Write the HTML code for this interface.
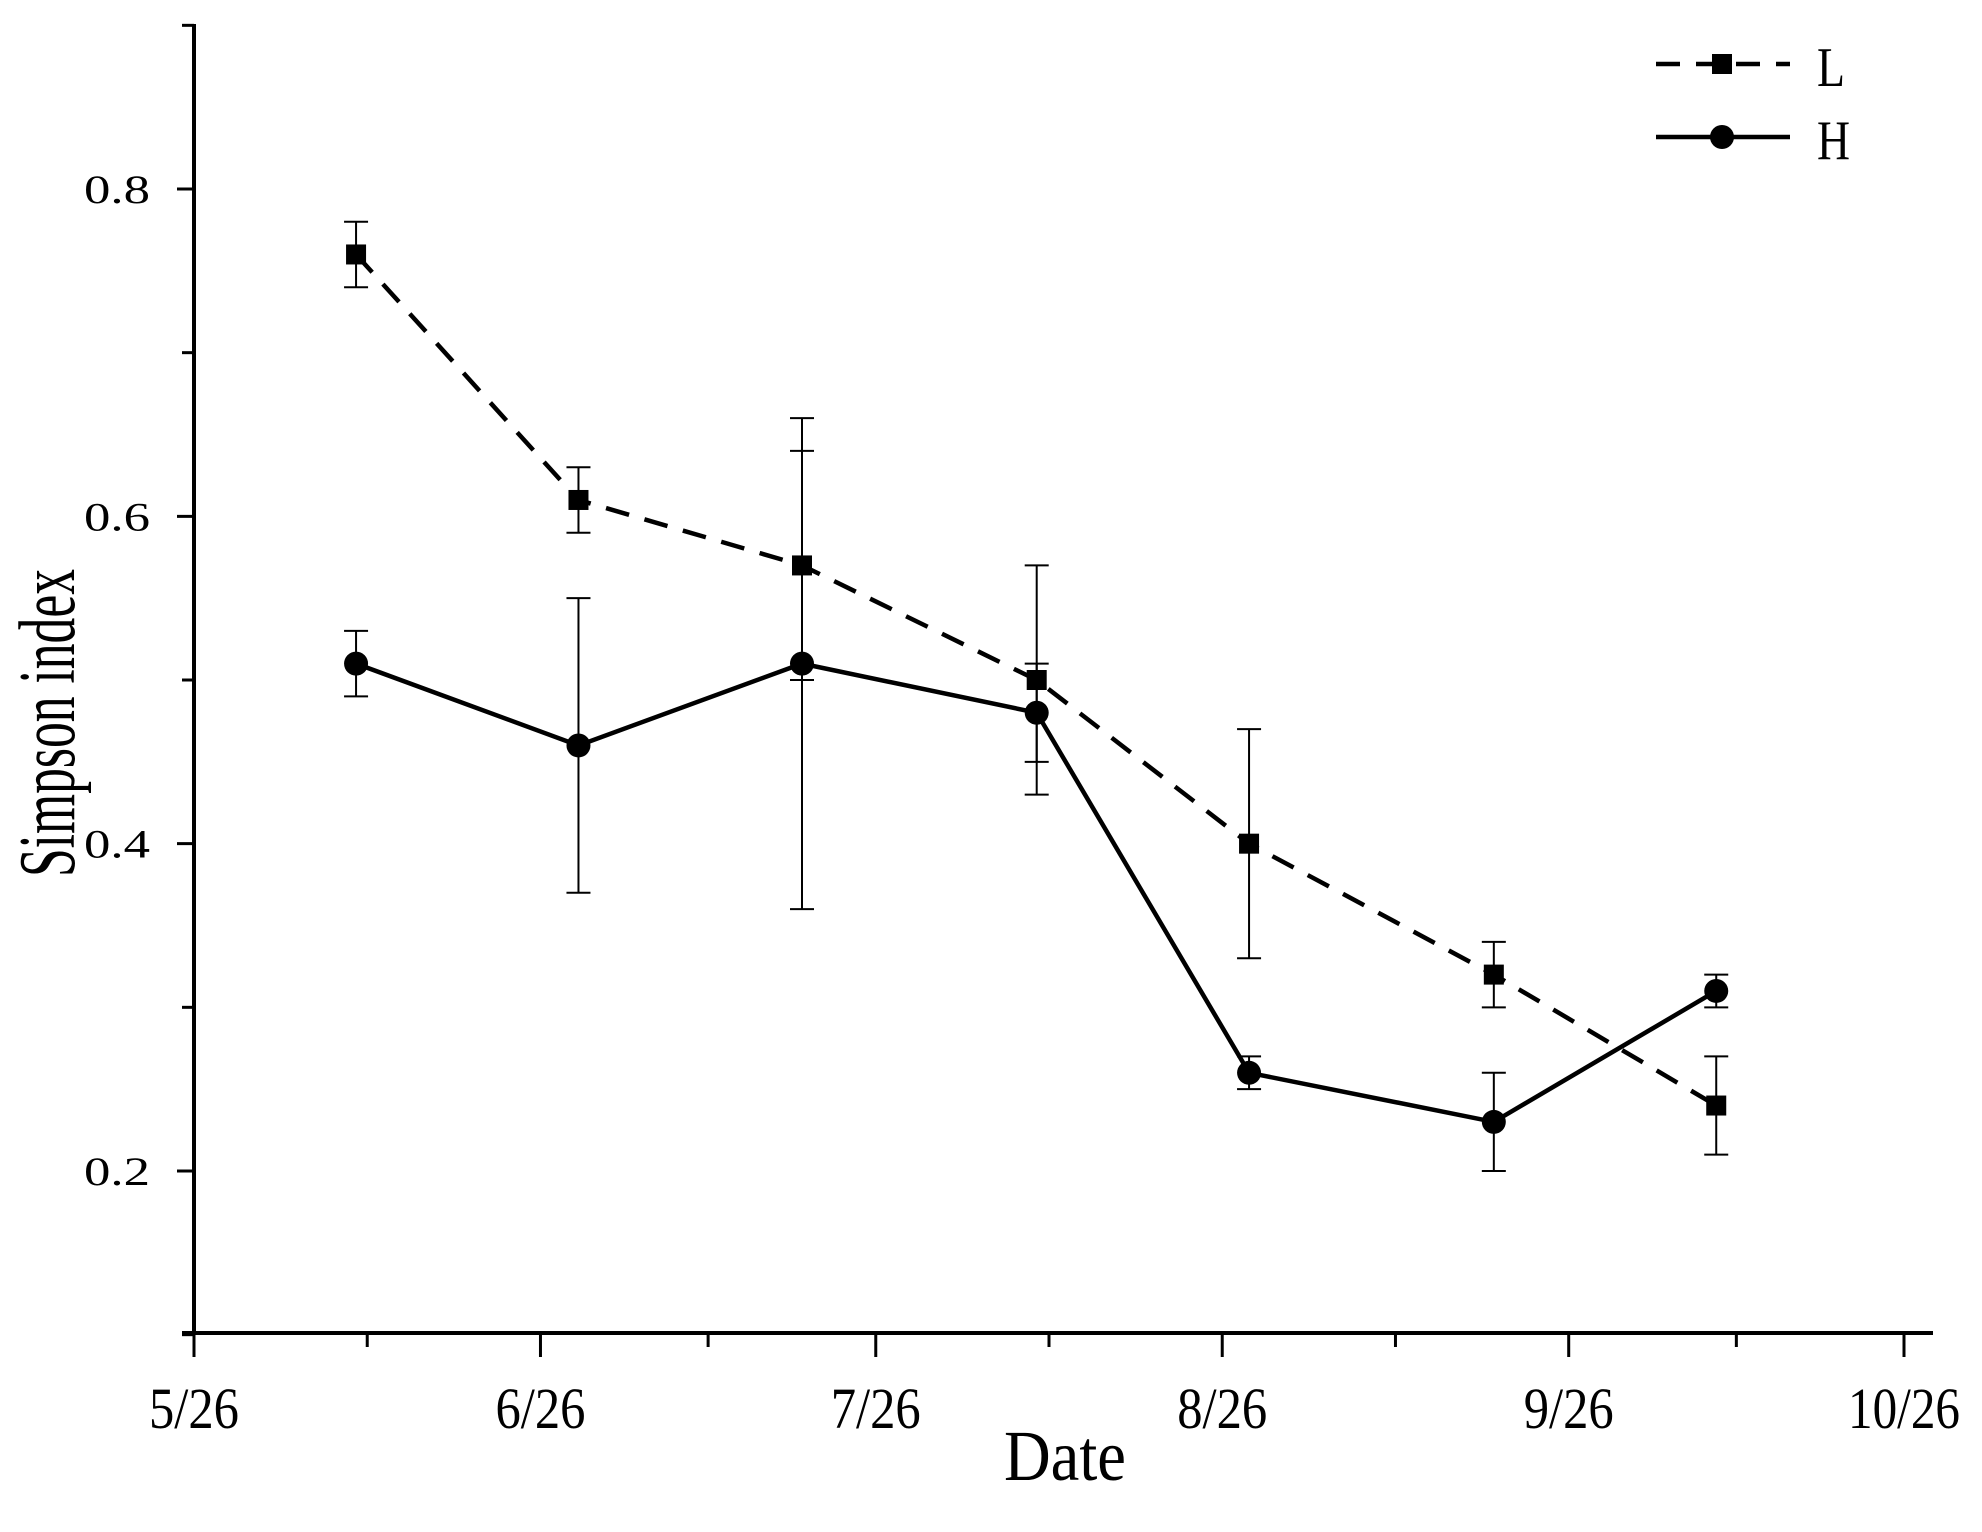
<!DOCTYPE html>
<html><head><meta charset="utf-8"><style>
html,body{margin:0;padding:0;background:#fff;}
svg{display:block;font-family:"Liberation Serif",serif;}
</style></head><body>
<svg id="chart" width="1982" height="1532" viewBox="0 0 1982 1532" xmlns="http://www.w3.org/2000/svg">
<g id="axes"></g>
<g id="series"></g>
<g id="legend"></g>
</svg>
<script>
const xTickLabels = ["5/26","6/26","7/26","8/26","9/26","10/26"];
const xTickDays = [0,31,61,92,123,153];
const yTicks = [0.2,0.4,0.6,0.8];
const pointDays = [14.5,34.4,54.4,75.4,94.4,116.3,136.2];
const seriesL = [0.76,0.61,0.57,0.50,0.40,0.32,0.24];
const errL = [0.02,0.02,0.07,0.07,0.07,0.02,0.03];
const seriesH = [0.51,0.46,0.51,0.48,0.26,0.23,0.31];
const errH = [0.02,0.09,0.15,0.03,0.01,0.03,0.01];

const NS="http://www.w3.org/2000/svg";
const X0=194, X1=1904, D0=0, D1=153;
const YA=1171, YB=189, VA=0.2, VB=0.8;
const AXIS_Y=1333, AXIS_TOP=24;
function xs(d){return X0+(d-D0)/(D1-D0)*(X1-X0);}
function ys(v){return YA-(v-VA)/(VB-VA)*(YA-YB);}
function mk(tag,attrs,parent){const e=document.createElementNS(NS,tag);for(const k in attrs)e.setAttribute(k,attrs[k]);parent.appendChild(e);return e;}
const axes=document.getElementById('axes'), ser=document.getElementById('series'), leg=document.getElementById('legend');

let e;
e=mk('line',{x1:X0,y1:AXIS_TOP,x2:X0,y2:AXIS_Y+2,stroke:'#000','stroke-width':4},axes);


e=mk('line',{x1:X0-12,y1:AXIS_Y,x2:1933,y2:AXIS_Y,stroke:'#000','stroke-width':4},axes);


for(let k=1; k<=9; k++){
  const v=k/10; const y=ys(v); const major=yTicks.some(t=>Math.abs(t-v)<1e-6);
  if(y<AXIS_TOP-2||y>AXIS_Y+2) continue;
  e=mk('line',{x1:X0-(major?17:12),y1:y,x2:X0,y2:y,stroke:'#000','stroke-width':3},axes);
  
  
}
yTicks.forEach(v=>{
  e=mk('text',{x:X0-110,y:ys(v)+14,'font-size':40,textLength:66,lengthAdjust:'spacingAndGlyphs'},axes);
  e.textContent=v.toFixed(1);
  
  
});
xTickDays.forEach((d,i)=>{
  const x=xs(d);
  e=mk('line',{x1:x,y1:AXIS_Y,x2:x,y2:AXIS_Y+24,stroke:'#000','stroke-width':3},axes);
  
  
  const lab=xTickLabels[i];
  const w=lab.length>4?112:90;
  e=mk('text',{x:x-w/2,y:AXIS_Y+95,'font-size':58,textLength:w,lengthAdjust:'spacingAndGlyphs'},axes);
  e.textContent=lab;
  
  
  if(i<xTickDays.length-1){
    const xm=xs((d+xTickDays[i+1])/2);
    e=mk('line',{x1:xm,y1:AXIS_Y,x2:xm,y2:AXIS_Y+14,stroke:'#000','stroke-width':3},axes);
    
    
  }
});
e=mk('text',{x:1004,y:1480,'font-size':72,textLength:122,lengthAdjust:'spacingAndGlyphs'},axes);
e.textContent='Date';


e=mk('text',{x:-154,y:0,'font-size':80,textLength:308,lengthAdjust:'spacingAndGlyphs',transform:'translate(74,723) rotate(-90)'},axes);
e.textContent='Simpson index';



function drawSeries(vals,errs,name,dash,marker){
  const pts=vals.map((v,i)=>xs(pointDays[i])+','+ys(v)).join(' ');
  e=mk('polyline',{points:pts,fill:'none',stroke:'#000','stroke-width':4.5,'stroke-dasharray':dash},ser);
  
  
  vals.forEach((v,i)=>{
    const x=xs(pointDays[i]), yt=ys(v+errs[i]), yb=ys(v-errs[i]);
    e=mk('path',{d:`M${x},${yt}V${yb}M${x-12},${yt}H${x+12}M${x-12},${yb}H${x+12}`,stroke:'#000','stroke-width':2,fill:'none'},ser);
    
    
    if(marker==='sq'){
      e=mk('rect',{x:x-10,y:ys(v)-10,width:20,height:20,fill:'#000'},ser);
    } else {
      e=mk('circle',{cx:x,cy:ys(v),r:12,fill:'#000'},ser);
    }
    
    
  });
}
drawSeries(seriesL,errL,'series-l','24,16','sq');
drawSeries(seriesH,errH,'series-h','none','ci');

e=mk('line',{x1:1656,y1:64,x2:1790,y2:64,stroke:'#000','stroke-width':4.5,'stroke-dasharray':'24,16'},leg);


e=mk('rect',{x:1712,y:54,width:20,height:20,fill:'#000'},leg);


e=mk('text',{x:1817,y:86,'font-size':56,textLength:28,lengthAdjust:'spacingAndGlyphs'},leg);
e.textContent='L';


e=mk('line',{x1:1656,y1:137,x2:1790,y2:137,stroke:'#000','stroke-width':4.5},leg);


e=mk('circle',{cx:1722,cy:137,r:12,fill:'#000'},leg);


e=mk('text',{x:1817,y:159,'font-size':56,textLength:33,lengthAdjust:'spacingAndGlyphs'},leg);
e.textContent='H';


</script>
</body></html>
